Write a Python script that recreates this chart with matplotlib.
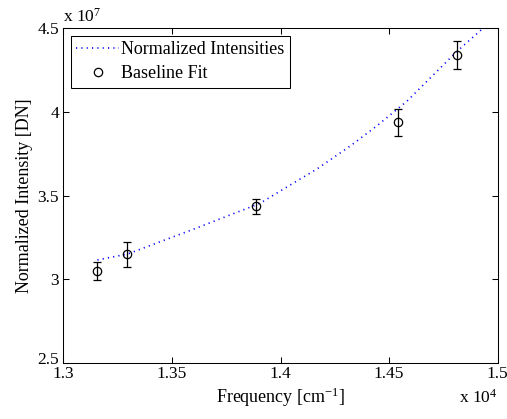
import matplotlib
matplotlib.use("Agg")
import matplotlib.pyplot as plt
from matplotlib.ticker import FixedLocator
from matplotlib.transforms import ScaledTranslation

plt.rcParams['font.family'] = ['Liberation Serif', 'DejaVu Serif']
plt.rcParams['mathtext.fontset'] = 'custom'
plt.rcParams['mathtext.rm'] = 'Liberation Serif'
plt.rcParams['mathtext.it'] = 'Liberation Serif:italic'

# Fitted curve ("Normalized Intensities")
curve_freq = [13157, 13295, 13600, 13887, 13914, 14014, 14168, 14321, 14444,
              14536, 14583, 14811, 14922, 14960]
curve_int = [3.116e7, 3.151e7, 3.30e7, 3.445e7, 3.461e7, 3.540e7, 3.660e7,
             3.797e7, 3.918e7, 4.016e7, 4.066e7, 4.361e7, 4.489e7, 4.533e7]

# Measured points ("Baseline Fit") with error bars
point_freq = [13155, 13295, 13887, 14539, 14811]
point_int = [3.05e7, 3.151e7, 3.438e7, 3.94e7, 4.341e7]
point_err = [0.053e7, 0.075e7, 0.045e7, 0.081e7, 0.081e7]

x_ticks = [13000, 13500, 14000, 14500, 15000]
x_tick_labels = ['1.3', '1.35', '1.4', '1.45', '1.5']
y_ticks = [2.5e7, 3.0e7, 3.5e7, 4.0e7, 4.5e7]
y_tick_labels = ['2.5', '3', '3.5', '4', '4.5']

fig = plt.figure(figsize=(5.07, 4.19), dpi=100)
ax = fig.add_axes([0.1249, 0.1337, 0.8568, 0.7985])

ax.plot(curve_freq, curve_int, color=(0, 0, 1), linewidth=1.2,
        linestyle=(0, (0.7, 2.5)), label='Normalized Intensities')
ax.errorbar(point_freq, point_int, yerr=point_err, fmt='none', ecolor='black',
            elinewidth=0.9, capsize=3.0, capthick=0.9)
ax.plot(point_freq, point_int, linestyle='none', marker='o', markersize=6,
        markerfacecolor='none', markeredgecolor='black', markeredgewidth=0.9,
        label='Baseline Fit')

ax.set_xlim(13000, 15000)
ax.set_ylim(2.5e7, 4.5e7)
ax.xaxis.set_major_locator(FixedLocator(x_ticks))
ax.yaxis.set_major_locator(FixedLocator(y_ticks))
ax.set_xticklabels(x_tick_labels)
ax.set_yticklabels(y_tick_labels)
ax.tick_params(direction='in', length=4, width=0.75, top=True, right=True,
               labelsize=12.5, colors='black')
ax.tick_params(axis='x', pad=2)
ax.tick_params(axis='y', pad=3)
for s in ax.spines.values():
    s.set_linewidth(0.75)

# MATLAB lifts the lowest y label a little above the x labels
low = ax.get_yticklabels()[0]
low.set_transform(low.get_transform() + ScaledTranslation(0, 3.5 / 72, fig.dpi_scale_trans))

ax.set_xlabel('Frequency [cm$\\mathregular{^{-1}}$]', fontsize=13, labelpad=3)
ax.set_ylabel('Normalized Intensity [DN]', fontsize=13, labelpad=3)

fig.text(0.905, 0.038, 'x 10$\\mathregular{^{4}}$', fontsize=12.5, ha='left', va='baseline')
fig.text(0.124, 0.948, 'x 10$\\mathregular{^{7}}$', fontsize=12.5, ha='left', va='baseline')

leg = ax.legend(loc='upper left', fontsize=13, frameon=True, fancybox=False,
                edgecolor='black', framealpha=1, handlelength=2.4,
                handletextpad=0.1, borderpad=0.3, labelspacing=0.4,
                borderaxespad=0.4)
leg.get_frame().set_linewidth(0.75)

fig.savefig('out.png', dpi=100)
